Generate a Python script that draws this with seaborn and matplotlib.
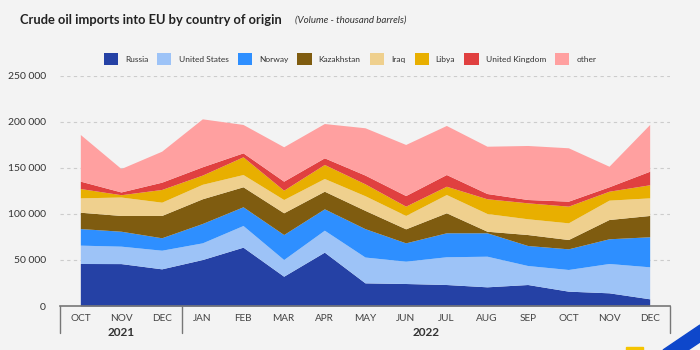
import matplotlib
matplotlib.use("Agg")
import matplotlib.pyplot as plt
import matplotlib.transforms as mtransforms
from matplotlib.patches import Polygon, Rectangle
import seaborn as sns
import pandas as pd

# Data (thousand barrels)
months = ['OCT', 'NOV', 'DEC', 'JAN', 'FEB', 'MAR', 'APR', 'MAY',
          'JUN', 'JUL', 'AUG', 'SEP', 'OCT', 'NOV', 'DEC']
years = ['2021', '2022']
year_sizes = [3, 12]

russia = [46100, 46000, 40300, 50400, 63800, 32300, 58400, 25100,
          24400, 23300, 20800, 23300, 16100, 14300, 7800]
united_states = [19900, 18900, 20200, 18100, 23500, 18100, 23800, 28000,
                 24200, 30100, 33200, 20600, 23500, 31800, 34700]
norway = [18000, 16200, 13500, 21000, 20300, 27100, 23200, 30800,
          19900, 26000, 25400, 21700, 22400, 26800, 32600]
kazakhstan = [17700, 17100, 24200, 26800, 21700, 23600, 19100, 19800,
              15200, 21700, 1700, 11900, 10100, 20900, 23100]
iraq = [15600, 20000, 14400, 15700, 13300, 14400, 13800, 15900,
        14500, 19800, 19200, 17100, 18100, 21000, 19100]
libya = [10100, 2500, 13800, 10000, 19200, 10100, 15200, 12900,
         10100, 9000, 16000, 17300, 18100, 9700, 14200]
united_kingdom = [8000, 3000, 7900, 9000, 4300, 9800, 7200, 9500,
                  11500, 12700, 5700, 3600, 5400, 4800, 14700]
other = [50600, 25400, 33600, 52000, 30800, 37300, 37200, 51300,
         55400, 53200, 51300, 58600, 57900, 22300, 50700]

series_names = ['Russia', 'United States', 'Norway', 'Kazakhstan',
                'Iraq', 'Libya', 'United Kingdom', 'other']
colors = ['#2541a5', '#9dc3f7', '#2e8fff', '#7f5c10',
          '#efd08e', '#e8af00', '#e04040', '#ffa0a0']

df = pd.DataFrame({
    'Russia': russia, 'United States': united_states, 'Norway': norway,
    'Kazakhstan': kazakhstan, 'Iraq': iraq, 'Libya': libya,
    'United Kingdom': united_kingdom, 'other': other,
})

sns.set_theme(style='white')
plt.rcParams['font.family'] = ['Lato', 'DejaVu Sans']
bg = '#f3f3f3'

fig = plt.figure(figsize=(7, 3.5), dpi=100, facecolor=bg)
ax = fig.add_axes([60 / 700, 1 - 306 / 350, 610 / 700, 230.5 / 350])
ax.set_facecolor(bg)

x = list(range(len(months)))
ax.stackplot(x, [df[c] for c in series_names], colors=colors,
             labels=series_names, linewidth=0)

ax.set_xlim(-0.5, len(months) - 0.5)
ax.set_ylim(0, 250000)

# y axis
yt = [0, 50000, 100000, 150000, 200000, 250000]
ax.set_yticks(yt)
ax.set_yticklabels([f'{v:,}'.replace(',', ' ') for v in yt],
                   fontsize=7.5, color='#333333')
ax.tick_params(axis='y', length=0, pad=10)
ax.yaxis.grid(True, linestyle=(0, (3, 3)), color='#cccccc', linewidth=0.8)
ax.set_axisbelow(True)

# x axis
ax.set_xticks(x)
ax.set_xticklabels(months, fontsize=7.2, color='#444444')
ax.set_xticks([i + 0.5 for i in x[:-1]], minor=True)
ax.tick_params(axis='x', which='major', length=0, pad=6)
ax.tick_params(axis='x', which='minor', length=5, color='#777777', width=1)
for s in ['top', 'right', 'left']:
    ax.spines[s].set_visible(False)
ax.spines['bottom'].set_color('#777777')
ax.spines['bottom'].set_linewidth(1.2)

# year separators and labels
trans = mtransforms.blended_transform_factory(ax.transData, ax.transAxes)
start = -0.5
for yr, n in zip(years, year_sizes):
    ax.plot([start, start], [0, -0.117], transform=trans, color='#777777',
            lw=1, clip_on=False)
    ax.text(start + n / 2, -0.117, yr, transform=trans, ha='center',
            va='center', fontsize=8.5, fontweight='bold', color='#333333')
    start += n
ax.plot([start, start], [0, -0.117], transform=trans, color='#777777',
        lw=1, clip_on=False)

# legend
handles, labels = ax.get_legend_handles_labels()
fig.legend(handles, labels, loc='center', bbox_to_anchor=(350 / 700, 1 - 59 / 350),
           ncol=8, frameon=False, fontsize=6, handlelength=1.7,
           handleheight=1.7, handletextpad=0.85, columnspacing=1.1,
           labelcolor='#333333')

# title
fig.text(20 / 700, 1 - 20 / 350, 'Crude oil imports into EU by country of origin',
         fontsize=9.3, fontweight='bold', color='#222222', va='center')
fig.text(295 / 700, 1 - 20 / 350, '(Volume - thousand barrels)',
         fontsize=7, style='italic', color='#333333', va='center')

# corner logo decoration
fig.patches.append(Polygon([(663 / 700, 0), (700 / 700, 25 / 350),
                            (700 / 700, 8 / 350), (688 / 700, 0)], closed=True,
                           transform=fig.transFigure, color='#0e47cb'))
fig.patches.append(Rectangle((626 / 700, 0), 17 / 700, 3 / 350,
                             transform=fig.transFigure, color='#f5c400'))

fig.savefig('out.png', dpi=100, facecolor=bg)
